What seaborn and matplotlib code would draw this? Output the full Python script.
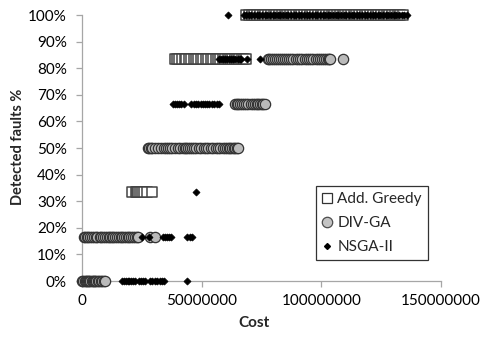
import numpy as np
import pandas as pd
import matplotlib
matplotlib.use("Agg")
import matplotlib.pyplot as plt
from matplotlib.lines import Line2D
from matplotlib.ticker import FuncFormatter, MultipleLocator
import seaborn as sns

# ---- data (cost in millions, detected faults as fraction) ----
greedy_cost = [20.7, 22.4, 22.8, 23.4, 24.0, 24.9, 25.7, 27.2, 29.1,
               38.7, 39.8, 40.7, 41.9, 42.8, 43.6, 44.8, 45.7, 46.9, 47.8,
               48.6, 49.8, 50.7, 51.6, 52.8, 53.7, 54.9, 55.8, 56.6, 57.8,
               58.7, 59.6, 60.8, 61.7, 62.6, 63.8, 64.7, 65.6, 66.8, 67.5,
               68.3,
               68.5, 69.7, 70.9, 72.0, 73.1, 74.3, 75.5, 76.6, 77.8, 79.0,
               80.1, 81.2, 82.4, 83.6, 84.7, 85.8, 87.0, 88.2, 89.3, 90.5,
               91.6, 92.8, 93.9, 95.1, 96.2, 97.4, 98.5, 99.7, 100.8, 102.0,
               103.1, 104.3, 105.4, 106.6, 107.7, 108.9, 110.0, 111.2, 112.3,
               113.5, 114.6, 115.8, 116.9, 118.1, 119.2, 120.4, 121.5, 122.7,
               123.8, 125.0, 126.1, 127.3, 128.4, 129.6, 130.7, 131.9, 133.0,
               134.0]
greedy_det = [1/3] * 9 + [5/6] * 31 + [1.0] * 58

divga_cost = [0.0, 0.5, 1.0, 1.5, 2.0, 2.5, 3.0, 3.5, 4.0, 4.5, 5.0, 5.5,
              6.0, 6.6, 7.2, 7.8, 8.4, 9.0, 9.6,
              0.8, 1.3, 1.9, 2.6, 3.4, 4.3, 5.0, 5.6, 6.4, 7.3, 8.1, 8.8,
              9.6, 10.4, 11.1, 11.8, 12.5, 13.1, 13.8, 14.6, 15.4, 16.1,
              16.8, 17.6, 18.3, 19.0, 19.8, 20.6, 21.4, 22.2, 22.9, 23.5,
              28.4, 30.5,
              27.6, 28.1, 28.6, 29.3, 30.5, 31.8, 33.0, 34.2, 35.2, 36.0,
              36.8, 37.7, 38.8, 40.0, 41.0, 42.0, 42.8, 43.6, 44.4, 45.2,
              46.0, 46.9, 47.8, 48.8, 49.8, 50.8, 51.8, 52.8, 53.8, 54.8,
              55.8, 56.8, 57.8, 58.8, 59.6, 60.4, 61.2, 62.0, 62.7, 63.4,
              64.1, 64.7, 65.2,
              64.0, 64.6, 65.3, 66.0, 66.8, 67.7, 68.6, 69.5, 70.4, 71.3,
              72.1, 72.9, 73.7, 74.4, 75.1, 75.8, 76.5,
              77.7, 78.3, 79.0, 79.8, 80.6, 81.4, 82.2, 83.0, 83.8, 84.7,
              85.6, 86.5, 87.4, 88.3, 89.2, 90.1, 91.0, 92.0, 93.0, 94.0,
              94.9, 95.8, 96.7, 97.6, 98.5, 99.4, 100.2, 101.0, 101.8,
              102.6, 103.2, 103.7, 109.0]
divga_det = ([0.0] * 19 + [1/6] * 34 + [0.5] * 43 + [2/3] * 17
             + [5/6] * 33)

nsga_cost = [16.6, 17.4, 18.2, 19.0, 19.8, 20.6, 21.4, 22.2, 23.6, 24.5,
             25.3, 26.3, 28.4, 29.4, 30.4, 31.4, 32.4, 33.4, 34.3, 43.8,
             25.0, 28.0, 34.0, 34.8, 35.6, 36.5, 37.3, 43.9, 44.9, 45.9,
             47.7,
             38.0, 38.8, 39.6, 40.5, 41.5, 42.5, 45.6, 46.6, 47.5, 48.5,
             49.5, 50.4, 51.3, 52.2, 53.2, 54.1, 55.1, 56.2, 57.3,
             57.2, 58.0, 58.8, 59.6, 60.6, 61.5, 62.3, 63.2, 64.0, 65.0,
             65.8, 66.6, 69.0, 74.4,
             61.0, 67.5, 68.6, 69.7, 70.8, 71.9, 73.0, 74.1, 75.2, 76.3,
             77.4, 78.5, 79.6, 80.7, 81.8, 82.9, 84.0, 85.1, 86.2, 87.3,
             88.4, 89.5, 90.6, 91.7, 92.8, 93.9, 95.0, 96.1, 97.2, 98.3,
             99.4, 100.5, 101.6, 102.7, 103.8, 104.9, 106.0, 107.1, 108.2,
             109.3, 110.4, 111.5, 112.6, 113.7, 114.8, 115.9, 117.0, 118.1,
             119.2, 120.3, 121.4, 122.5, 123.6, 124.7, 125.8, 126.9, 128.0,
             129.1, 130.2, 131.3, 132.4, 133.5, 134.6, 135.6]
nsga_det = ([0.0] * 20 + [1/6] * 10 + [1/3] * 1 + [2/3] * 19
            + [5/6] * 14 + [1.0] * 64)

algorithms = ["Add. Greedy", "DIV-GA", "NSGA-II"]

frames = []
for name, cost, det in zip(algorithms,
                           [greedy_cost, divga_cost, nsga_cost],
                           [greedy_det, divga_det, nsga_det]):
    frames.append(pd.DataFrame({"Cost": np.array(cost) * 1e6,
                                "Detected": det,
                                "Algorithm": name}))
df = pd.concat(frames, ignore_index=True)

# ---- figure ----
sns.set_style("white")
plt.rcParams["font.family"] = ["Lato", "DejaVu Sans"]

fig = plt.figure(figsize=(4.83, 3.38), dpi=100)
ax = fig.add_axes([0.170, 0.1686, 0.743, 0.787])

styles = {
    "Add. Greedy": dict(marker="s", s=52, facecolor="white",
                        edgecolor="#444444", linewidth=1.1),
    "DIV-GA": dict(marker="o", s=55, facecolor="#bababa",
                   edgecolor="#333333", linewidth=0.9),
    "NSGA-II": dict(marker="D", s=13, facecolor="black",
                    edgecolor="black", linewidth=0.5),
}
for i, name in enumerate(algorithms):
    sub = df[df["Algorithm"] == name]
    st = styles[name]
    sns.scatterplot(data=sub, x="Cost", y="Detected", ax=ax,
                    marker=st["marker"], s=st["s"], color=st["facecolor"],
                    edgecolor=st["edgecolor"], linewidth=st["linewidth"],
                    clip_on=False, zorder=3 + i, legend=False)

ax.set_xlim(0, 150e6)
ax.set_ylim(0, 1.0)
ax.xaxis.set_major_locator(MultipleLocator(50e6))
ax.yaxis.set_major_locator(MultipleLocator(0.1))
ax.xaxis.set_major_formatter(FuncFormatter(lambda v, p: f"{v:.0f}"))
ax.yaxis.set_major_formatter(FuncFormatter(lambda v, p: f"{v * 100:.0f}%"))

for side in ["top", "right"]:
    ax.spines[side].set_visible(False)
for side in ["left", "bottom"]:
    ax.spines[side].set_color("#a6a6a6")
    ax.spines[side].set_linewidth(0.9)
ax.tick_params(axis="both", which="major", direction="out", length=4,
               width=0.9, color="#a6a6a6", labelsize=11, labelcolor="black",
               left=True, bottom=True)
ax.tick_params(axis="y", pad=7)
ax.tick_params(axis="x", pad=5)

ax.set_xlabel("Cost", fontsize=11, fontweight="bold")
ax.set_ylabel("Detected faults %", fontsize=10.5, fontweight="bold")
ax.xaxis.set_label_coords(0.479, -0.132)
ax.yaxis.set_label_coords(-0.16, 0.504)

handles = [
    Line2D([], [], linestyle="none", marker="s", markersize=7,
           markerfacecolor="white", markeredgecolor="#333333",
           markeredgewidth=0.9),
    Line2D([], [], linestyle="none", marker="o", markersize=7.5,
           markerfacecolor="#c4c4c4", markeredgecolor="#4d4d4d",
           markeredgewidth=0.9),
    Line2D([], [], linestyle="none", marker="D", markersize=3,
           markerfacecolor="black", markeredgecolor="black"),
]
leg = ax.legend(handles, algorithms, loc="upper left",
                bbox_to_anchor=(0.652, 0.357), frameon=True, fancybox=False,
                fontsize=11, handlelength=0.6, handletextpad=0.4,
                borderpad=0.4, labelspacing=0.65, borderaxespad=0)
leg.get_frame().set_edgecolor("black")
leg.get_frame().set_linewidth(0.9)

fig.savefig("out.png", dpi=100)
